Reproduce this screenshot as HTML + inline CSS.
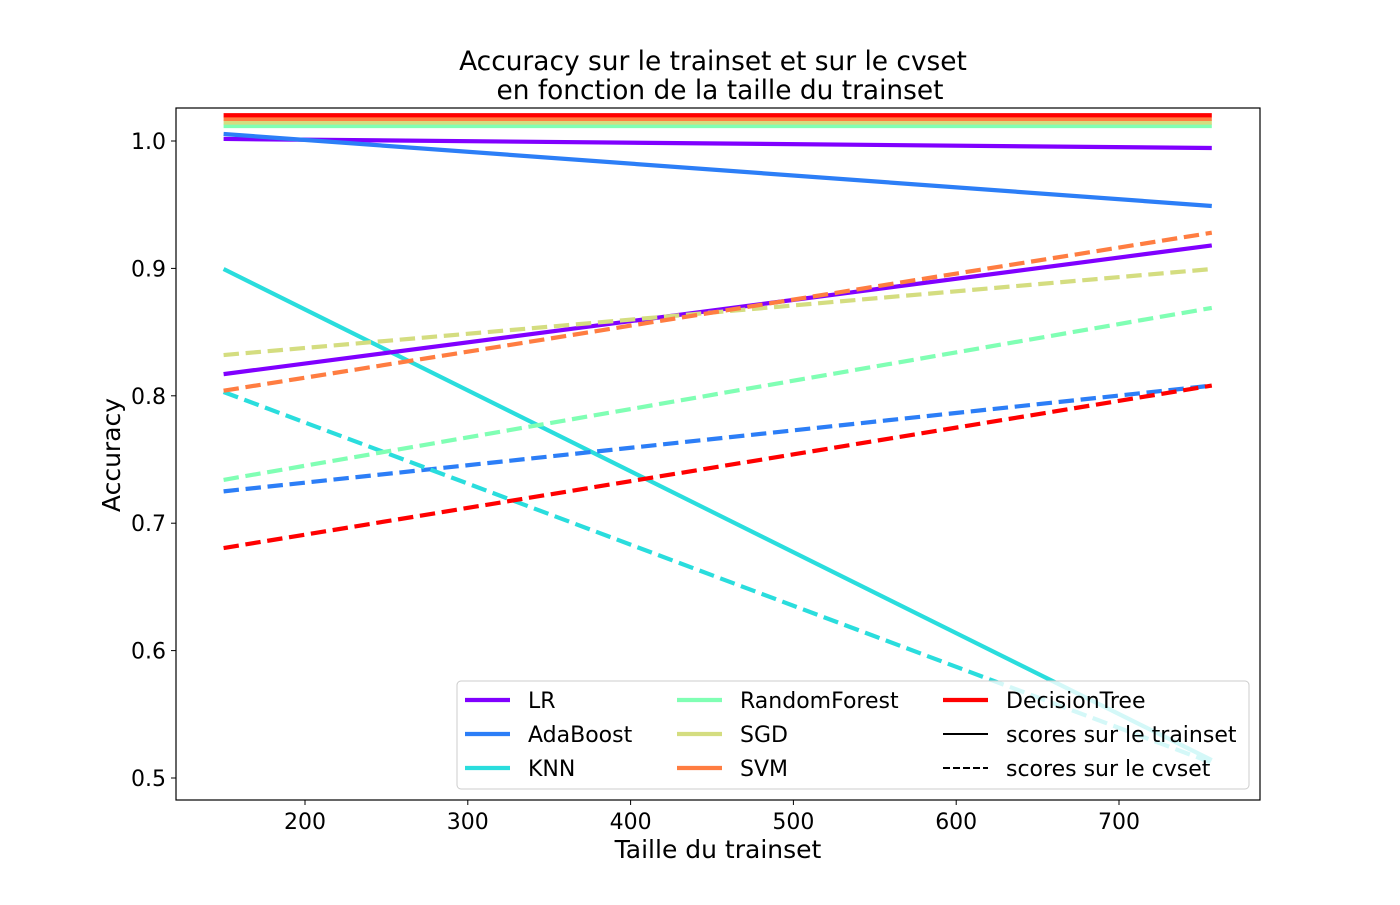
<!DOCTYPE html>
<html><head><meta charset="utf-8"><style>
body{margin:0;background:#fff}
svg text{font-family:"DejaVu Sans","Liberation Sans",sans-serif;fill:#000}
</style></head><body>
<svg id="chart" width="1400" height="900" xmlns="http://www.w3.org/2000/svg">
<g id="marks"></g>
<rect x="176" y="108" width="1084" height="692" fill="none" stroke="#000" stroke-width="1.2"/>
<g id="axes"></g>
<text x="713" y="70" font-size="26.4" text-anchor="middle">Accuracy sur le trainset et sur le cvset</text>
<text x="720" y="99" font-size="26.4" text-anchor="middle">en fonction de la taille du trainset</text>
<text x="718" y="858" font-size="25" text-anchor="middle">Taille du trainset</text>
<text transform="translate(120,455) rotate(-90)" font-size="25" text-anchor="middle">Accuracy</text>
<g id="legend"></g>
</svg>
<script>
const xTicks=[200,300,400,500,600,700];
const yTicks=[0.5,0.6,0.7,0.8,0.9,1.0];
const sizes=[150,757];
const seriesNames=["LR train","AdaBoost train","KNN train","RF train","SGD train","SVM train","DT train","LR cv","AdaBoost cv","KNN cv","RF cv","SGD cv","SVM cv","DT cv"];
const seriesColors=["#8000ff","#2c7ef7","#2adddd","#80ffb4","#d4dd80","#ff7d41","#ff0000","#8000ff","#2c7ef7","#2adddd","#80ffb4","#d4dd80","#ff7d41","#ff0000"];
const seriesDashed=[0,0,0,0,0,0,0,0,1,1,1,1,1,1];
const lrTrain=[1.0016,0.9945];
const adaTrain=[1.0055,0.949];
const knnTrain=[0.8995,0.514];
const rfTrain=[1.0118,1.0118];
const sgdTrain=[1.0145,1.0145];
const svmTrain=[1.0173,1.0173];
const dtTrain=[1.0202,1.0202];
const lrCv=[0.817,0.918];
const adaCv=[0.725,0.808];
const knnCv=[0.803,0.512];
const rfCv=[0.734,0.869];
const sgdCv=[0.832,0.8995];
const svmCv=[0.804,0.928];
const dtCv=[0.6805,0.808];
const seriesValues=[lrTrain,adaTrain,knnTrain,rfTrain,sgdTrain,svmTrain,dtTrain,lrCv,adaCv,knnCv,rfCv,sgdCv,svmCv,dtCv];
const drawOrder=[0,1,2,7,8,9,10,11,12,13,3,4,5,6];
const NS="http://www.w3.org/2000/svg";
const X=v=>305+(v-200)*1.628;
const Y=v=>141-(v-1.0)*1274;
function mk(t,a,p){const e=document.createElementNS(NS,t);for(const k in a)e.setAttribute(k,a[k]);p.appendChild(e);return e;}
const marks=document.getElementById('marks');
drawOrder.forEach(i=>{
 const pts=sizes.map((s,j)=>X(s)+','+Y(seriesValues[i][j])).join(' ');
 const l=mk('polyline',{points:pts,fill:'none',stroke:seriesColors[i],'stroke-width':4.2},marks);
 if(seriesDashed[i])l.setAttribute('stroke-dasharray','15.4 6.7');
 
 
});
const axes=document.getElementById('axes');
xTicks.forEach(v=>{
 const t=mk('line',{x1:X(v),x2:X(v),y1:800,y2:805,stroke:'#000'},axes);
 
 
 const tx=mk('text',{x:X(v),y:829,'font-size':22,'text-anchor':'middle'},axes);tx.textContent=v;
 
 
});
yTicks.forEach(v=>{
 const t=mk('line',{x1:171,x2:176,y1:Y(v),y2:Y(v),stroke:'#000'},axes);
 
 
 const tx=mk('text',{x:166,y:Y(v)+8,'font-size':22,'text-anchor':'end'},axes);tx.textContent=v.toFixed(1);
 
 
});
const lg=document.getElementById('legend');
const box=mk('rect',{x:457,y:681,width:792,height:108,rx:4,fill:'#fff','fill-opacity':0.8,stroke:'#ccc'},lg);


const entries=[["LR","#8000ff",0],["AdaBoost","#2c7ef7",0],["KNN","#2adddd",0],["RandomForest","#80ffb4",0],["SGD","#d4dd80",0],["SVM","#ff7d41",0],["DecisionTree","#ff0000",0],["scores sur le trainset","#000",0],["scores sur le cvset","#000",1]];
const colX=[465,677,943];
entries.forEach((e,i)=>{
 const c=Math.floor(i/3),r=i%3,x=colX[c],y=700+r*34;
 const l=mk('line',{x1:x,x2:x+45,y1:y,y2:y,stroke:e[1],'stroke-width':e[1]=='#000'?2:4.2},lg);
 if(e[2])l.setAttribute('stroke-dasharray','7 3');
 
 
 const t=mk('text',{x:x+63,y:y+8,'font-size':22},lg);t.textContent=e[0];
 
 
});
</script>
</body></html>
